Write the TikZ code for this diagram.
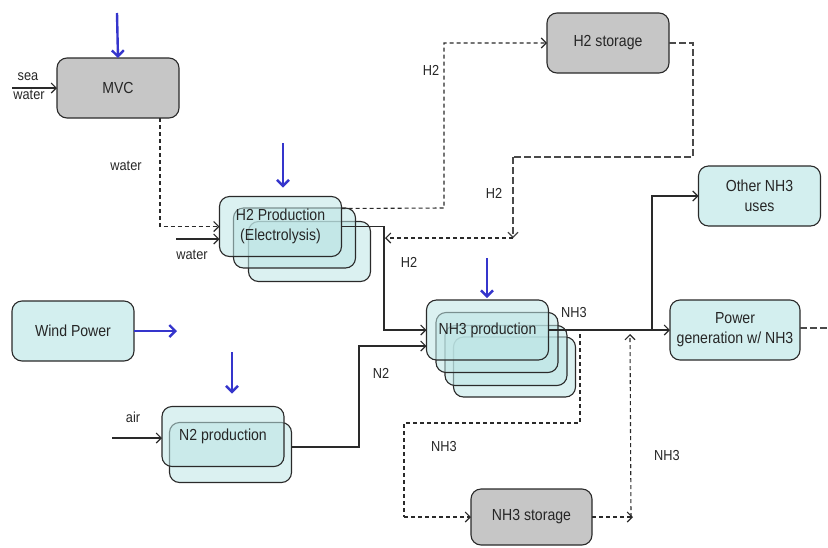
\documentclass[tikz,border=0pt]{standalone}
\usepackage{fontspec}
\setmainfont{Liberation Sans}[FakeStretch=0.88]
\usetikzlibrary{arrows.meta}
\definecolor{tealfill}{HTML}{D3EFEF}
\definecolor{stackfill}{HTML}{BDE5E5}
\definecolor{grayfill}{HTML}{C6C6C6}
\definecolor{edge}{HTML}{2A2A2A}
\definecolor{pblue}{HTML}{3535CC}
\definecolor{dgray}{HTML}{4A4A4A}
\newcommand{\boxfont}{\fontsize{16}{20}\selectfont}
\newcommand{\lblfont}{\fontsize{14.5}{16}\selectfont}
\begin{document}
\begin{tikzpicture}[x=1pt,y=-1pt,
  proc/.style={draw=edge,line width=1.1pt,rounded corners=10pt,inner sep=2pt,outer sep=0pt,
    align=center,font=\boxfont,minimum width=122pt,minimum height=60pt,text=black!85},
  tealbox/.style={proc,fill=tealfill},
  graybox/.style={proc,fill=grayfill},
  stackbox/.style={proc,fill=stackfill,fill opacity=0.55,text opacity=1},
  lbl/.style={font=\lblfont,inner sep=0pt,text=black!85},
  tip/.style={-{Straight Barb[length=5pt,width=10pt,line width=1.1pt]}},
  arr/.style={draw=edge,line width=1.1pt,tip},
  plain/.style={draw=edge,line width=1.1pt},
  darr/.style={draw=edge,line width=1.1pt,dash pattern=on 4pt off 3pt,tip},
  dline/.style={draw=edge,line width=1.1pt,dash pattern=on 4pt off 3pt},
  garr/.style={draw=dgray,line width=1.2pt,dash pattern=on 7pt off 3pt,tip},
  gline/.style={draw=dgray,line width=1.2pt,dash pattern=on 7pt off 3pt},
  barr/.style={draw=pblue,line width=2.4pt,-{Straight Barb[length=6pt,width=12pt]}}]
\useasboundingbox (0,0) rectangle (828,547);

% ---- boxes ----
\node[graybox] (mvc) at (118,88) {MVC};
\node[graybox] (h2s) at (608,43) {H2 storage};
\node[tealbox] (wind) at (73,331) {Wind Power};
\node[tealbox] (oth) at (759.5,196) {Other NH3\\uses};
\node[tealbox,minimum width=130pt] (pg) at (735,330) {Power\\generation w/ NH3};
\node[graybox,minimum width=121pt,minimum height=56pt] (st) at (531.5,517) {NH3 storage};

% H2 production stack
\node[stackbox] (h2c) at (309.5,251.5) {};
\node[stackbox] (h2b) at (294.5,238) {};
\node[stackbox] (h2a) at (280.5,226.5) {H2 Production\\(Electrolysis)};

% NH3 production stack
\node[stackbox] (nh3d) at (514.5,367) {};
\node[stackbox] (nh3c) at (506,355.5) {};
\node[stackbox] (nh3b) at (497,342.5) {};
\node[stackbox] (nh3a) at (487.5,330) {NH3 production};

% N2 production stack
\node[stackbox] (n2b) at (230.5,452.5) {};
\node[stackbox] (n2a) at (223,436.5) {N2 production};

% ---- free ends ----
\coordinate (sw) at (12,88);
\coordinate (win) at (176,239);
\coordinate (air) at (112,438);
\coordinate (h2j) at (513,238);
\coordinate (stj) at (633,517);
\coordinate (out) at (828,328);
\coordinate (bm) at (117,13);
\coordinate (bh) at (283,143);
\coordinate (bn) at (487,258);
\coordinate (bn2) at (232,352);
\coordinate (bw) at (177,331);

% ---- power inputs ----
\draw[barr] (bm) -- (mvc.north);
\draw[barr] (bh) -- ([yshift=9pt]bh |- h2a.north);
\draw[barr] (bn) -- ([yshift=2pt]bn |- nh3a.north);
\draw[barr] (bn2) -- ([yshift=13pt]bn2 |- n2a.north);
\draw[barr] (wind.east) -- (bw);

% ---- flows ----
\draw[arr] (sw) -- (mvc.west);
\draw[darr] ([xshift=42pt]mvc.south) |- (h2a.west);
\draw[arr] (win) -- (win -| h2a.west);
\draw[darr] ([yshift=18pt]h2a.east) -- (444,208) |- (h2s.west);
\draw[gline] (h2s.east) -- (693,43) -- (693,157) -- (513,157);
\draw[garr] (513,157) -- (h2j);
\draw[darr] (h2j) -- (385,238);
\draw[arr] (h2a.east) -- (384,226.5) |- (nh3a.west);
\draw[arr] ([yshift=5.5pt]n2b.east) -- (359,447) |- ([yshift=-16pt]nh3a.west);
\draw[arr] (nh3a.east) -- (pg.west);
\draw[arr] (652,330) |- (oth.west);
\draw[dline] (556,330) -- (580,330) -- (580,423) -- (404,423) -- (404,517);
\draw[darr] (404,517) -- (st.west);
\draw[darr] (st.east) -- (stj);
\draw[darr] (631,517) -- (630,334);
\draw[gline] ([yshift=2pt]pg.east) -- (out);
\draw[arr] (air) -- (n2a.west |- air);

% ---- labels ----
\node[lbl] (lsea) at (28,77) {sea};
\node[lbl] (lsw) at (29,95) {water};
\node[lbl] (lw1) at (126,166) {water};
\node[lbl] (lw2) at (192,255) {water};
\node[lbl] (lh1) at (431,70) {H2};
\node[lbl] (lh2) at (494,193) {H2};
\node[lbl] (lh3) at (409,262) {H2};
\node[lbl] (ln1) at (574,313) {NH3};
\node[lbl] (ln2) at (381,373) {N2};
\node[lbl] (lair) at (133,417) {air};
\node[lbl] (ln3) at (444,447) {NH3};
\node[lbl] (ln4) at (667,456) {NH3};
\end{tikzpicture}
\end{document}
